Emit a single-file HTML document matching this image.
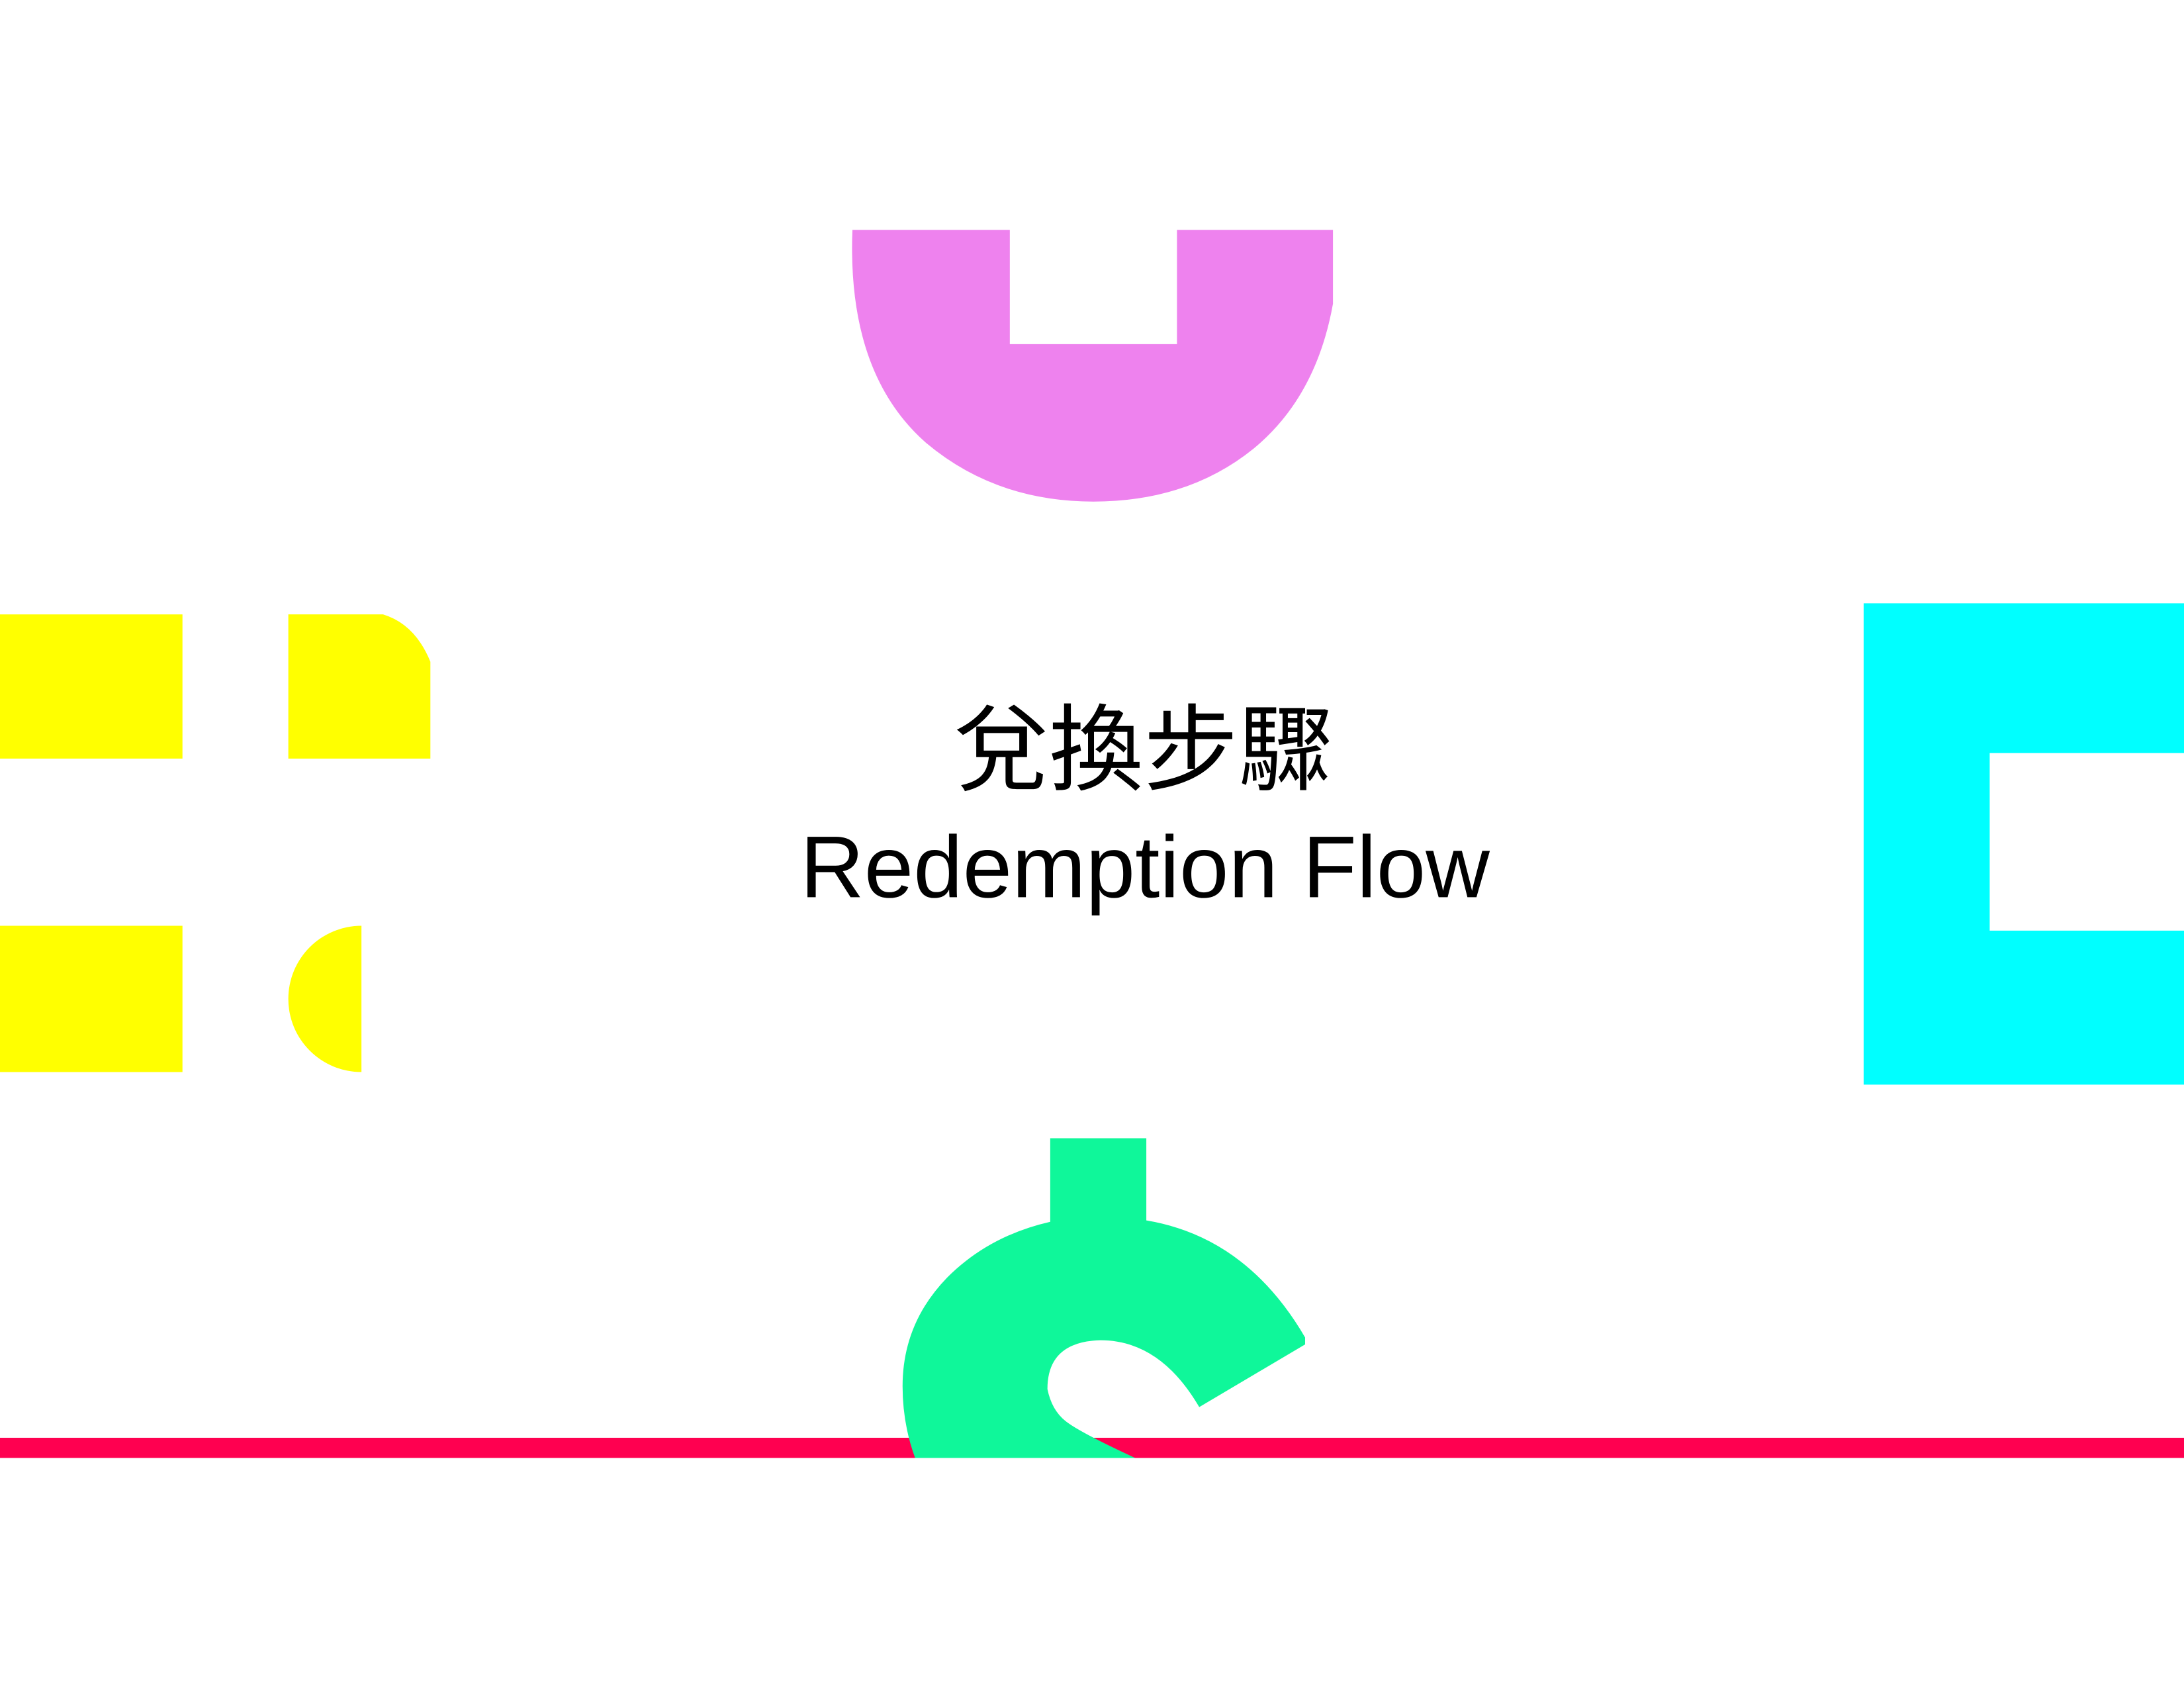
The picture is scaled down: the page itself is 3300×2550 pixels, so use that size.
<!DOCTYPE html>
<html><head><meta charset="utf-8"><style>html,body{margin:0;padding:0;background:#fff}svg{display:block}</style></head>
<body>
<svg width="3300" height="2550" viewBox="0 0 1568 1211.6" xmlns="http://www.w3.org/2000/svg">
<rect width="1568" height="1211.6" fill="#fff"/>
<path d="M612,165 L725,165 L725,247 L845,247 L845,165 L957,165 L957,218 Q945,285 900,322 Q853,360 785,360 Q715,360 665,318 Q608,268 612,165 Z" fill="#ee82ee"/>
<rect x="0" y="441" width="131" height="103.5" fill="#ffff00"/>
<path d="M207,441 L275,441 Q298,448 309,475 L309,544.5 L207,544.5 Z" fill="#ffff00"/>
<rect x="0" y="664.5" width="131" height="105" fill="#ffff00"/>
<path d="M259.5,664.5 A52.5,52.5 0 0 0 259.5,769.5 Z" fill="#ffff00"/>
<path d="M1338,433 L1568,433 L1568,540.5 L1428.5,540.5 L1428.5,668 L1568,668 L1568,778.5 L1338,778.5 Z" fill="#00ffff"/>
<rect x="0" y="1032" width="1568" height="14.5" fill="#ff0050"/>
<path d="M754,817 L823,817 L823,876 Q895,888 937,960 L937,965 L861,1010 Q833,962 790,962 Q752,963 752,997 Q755,1012 765,1020 Q775,1028 815,1046.5 L657,1046.5 Q648,1022 648,995 Q648,950 680,917 Q710,887 754,877 Z" fill="#0ff79a"/>
<text x="821" y="562" text-anchor="middle" font-family="'Noto Sans CJK TC',sans-serif" font-size="68" fill="#000">兌換步驟</text>
<text x="822" y="644" text-anchor="middle" font-family="'Liberation Sans',sans-serif" font-size="63" textLength="495" lengthAdjust="spacingAndGlyphs" fill="#000">Redemption Flow</text>
</svg>
</body></html>
